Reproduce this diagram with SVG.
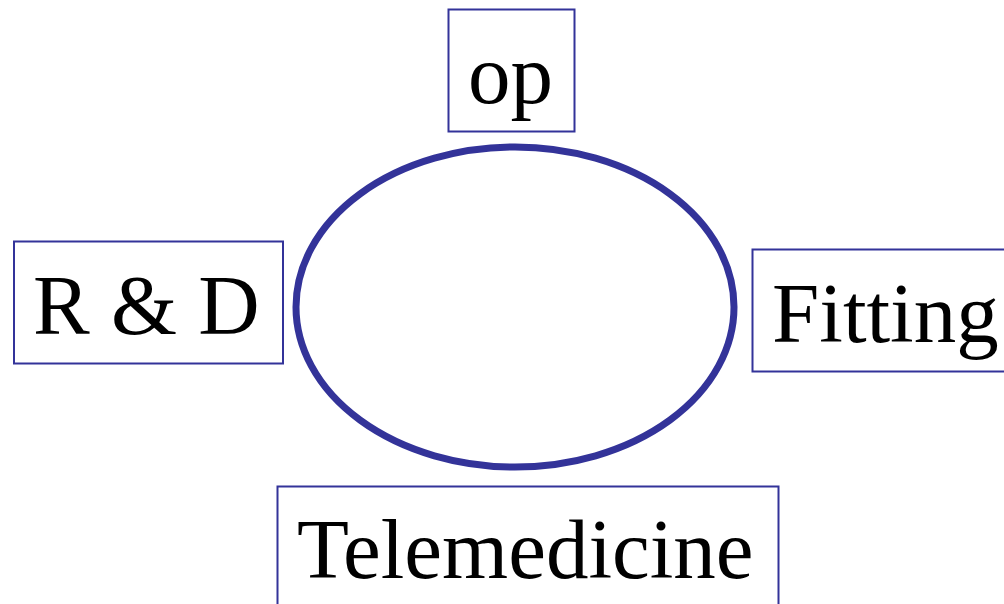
<svg xmlns="http://www.w3.org/2000/svg" width="1004" height="604" viewBox="0 0 1004 604">
  <style>
    .box { fill: #ffffff; stroke: #333399; stroke-width: 2; }
    .label { font-family: "Liberation Serif", "Times New Roman", serif; font-size: 85px; fill: #000000; }
    .ring { fill: none; stroke: #333399; stroke-width: 7; }
  </style>
  <rect width="1004" height="604" fill="#ffffff"/>
  <g id="connectors">
    <ellipse class="ring" cx="515" cy="307" rx="219" ry="160"/>
  </g>
  <g id="node-op">
    <rect class="box" x="448.5" y="9.5" width="126" height="122"/>
    <text class="label" x="468" y="103">op</text>
  </g>
  <g id="node-rnd">
    <rect class="box" x="14" y="241.5" width="269" height="122"/>
    <text class="label" x="33" y="334">R &amp; D</text>
  </g>
  <g id="node-fitting">
    <rect class="box" x="752.5" y="249.5" width="260" height="122"/>
    <text class="label" x="772" y="342">Fitting</text>
  </g>
  <g id="node-telemedicine">
    <rect class="box" x="277.5" y="486.5" width="501" height="130"/>
    <text class="label" x="297" y="578">Telemedicine</text>
  </g>
</svg>
